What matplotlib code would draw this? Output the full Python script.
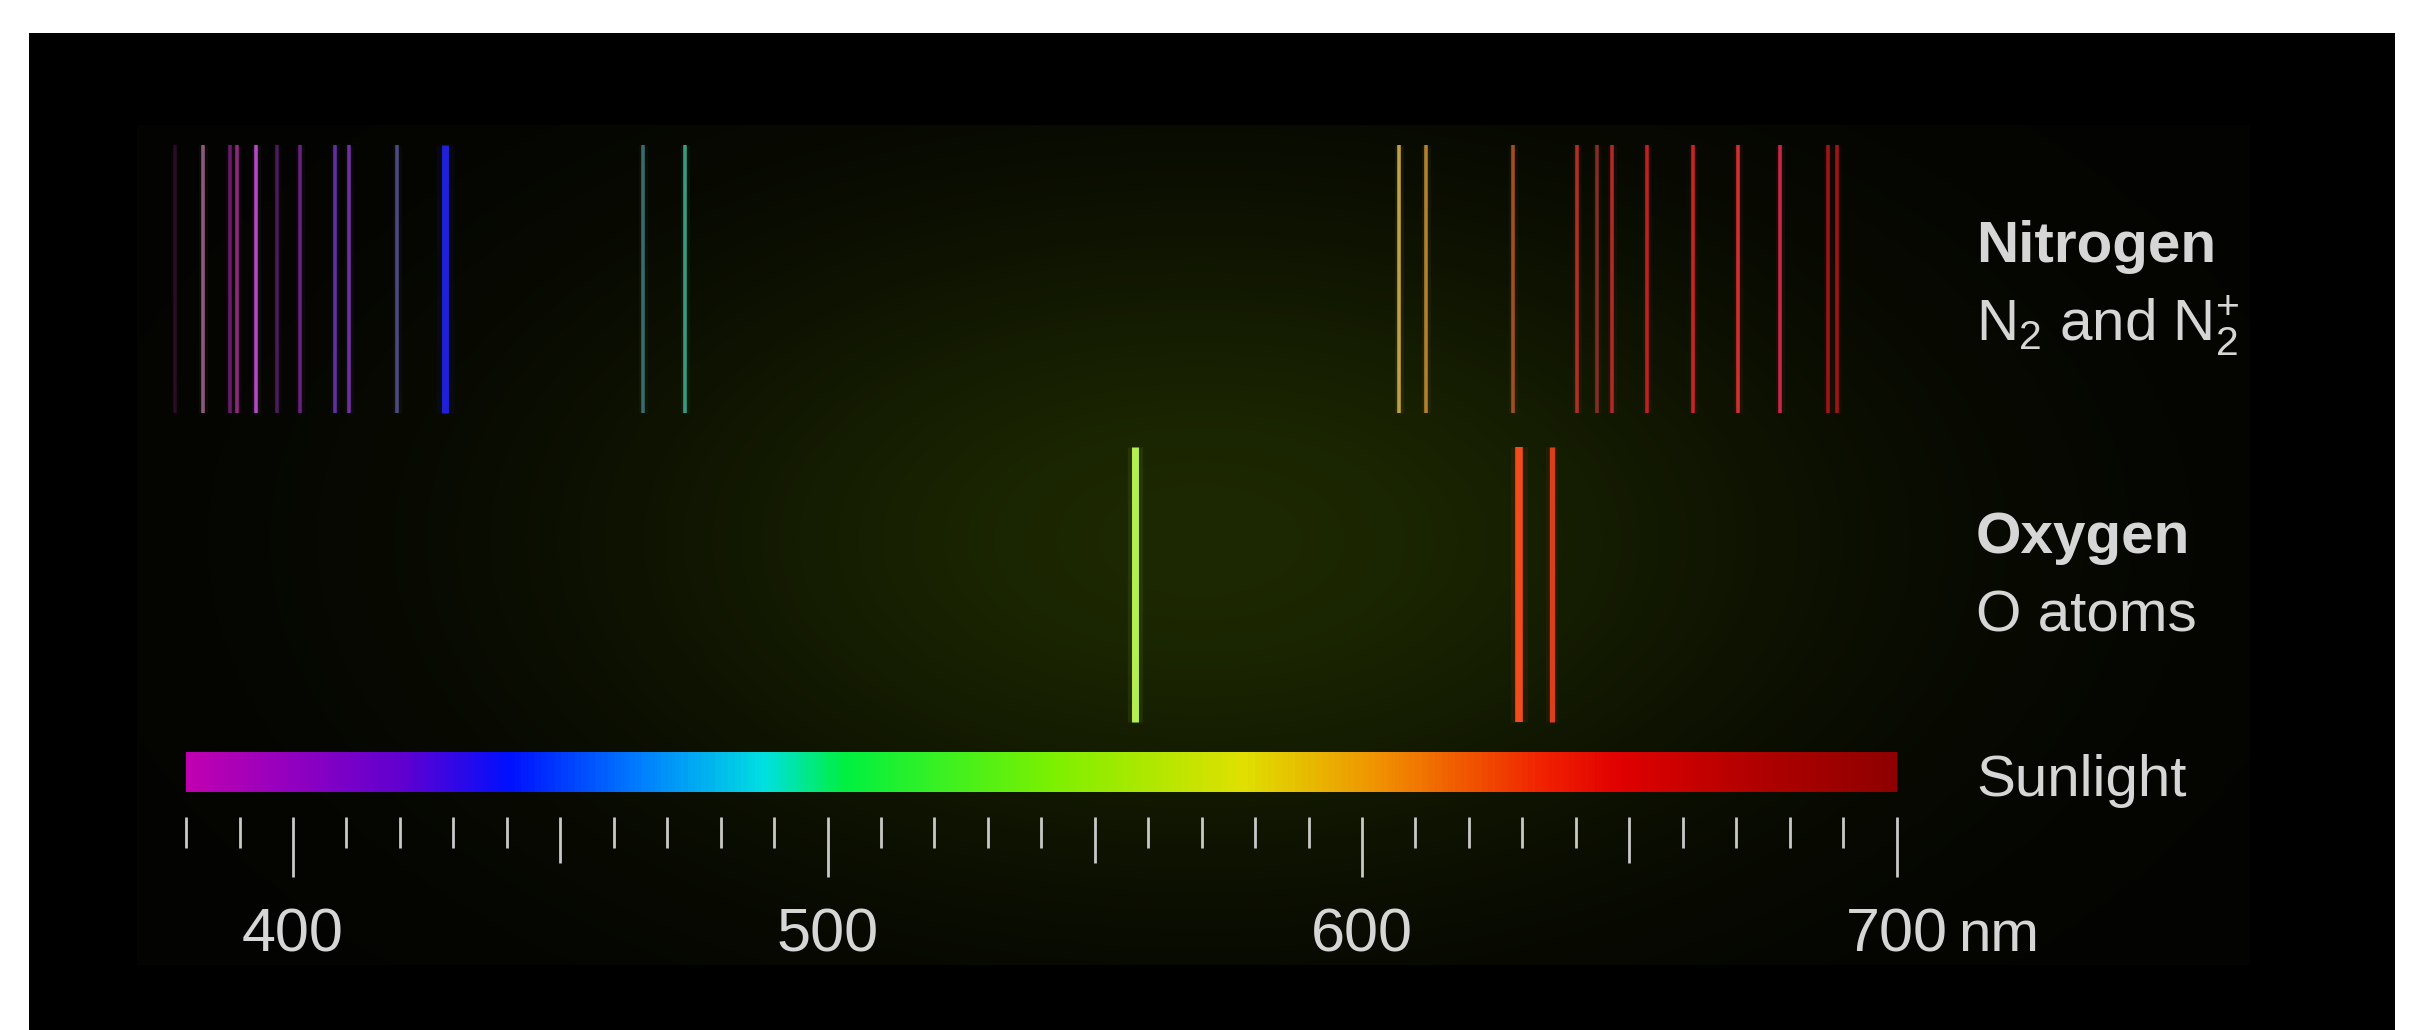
import numpy as np
import matplotlib.pyplot as plt
from matplotlib.colors import LinearSegmentedColormap

plt.rcParams['font.family'] = ['Liberation Sans', 'DejaVu Sans']
plt.rcParams['mathtext.fontset'] = 'custom'
plt.rcParams['mathtext.rm'] = 'Liberation Sans'
plt.rcParams['mathtext.it'] = 'Liberation Sans:italic'
plt.rcParams['mathtext.bf'] = 'Liberation Sans:bold'

# Nitrogen (N2 and N2+) emission lines, nm
nitrogen_nm = [377.9, 383.2, 388.2, 389.5, 393.1, 397.0, 401.3, 407.9, 410.5, 419.5, 428.4,
               465.5, 473.3,
               606.9, 612.0, 628.3, 640.2, 644.0, 646.8, 653.3, 661.9, 670.4, 678.2, 687.2, 688.9]
nitrogen_colors = ['#2a0c24', '#8a5a7a', '#6a1a6a', '#8a2a7a', '#b448c4', '#4a1a5a', '#6a2080',
                   '#6030a0', '#7030a0', '#4a4a80', '#2020d8',
                   '#3a6a6a', '#3a9a80',
                   '#c0a040', '#b08030', '#a05020', '#b03020', '#803020', '#b02828', '#c02020',
                   '#c82424', '#d03030', '#c82848', '#a01414', '#a01414']

# Oxygen (O atoms) emission lines, nm
oxygen_nm = [557.5, 629.3, 635.6]
oxygen_colors = ['#b4ee50', '#f04c1c', '#d8401c']

# Sunlight colour bar stops
sun_nm = [380, 400, 420, 440, 465, 488, 503, 543, 578, 604, 635, 649, 675, 700]
sun_colors = ['#c000b0', '#9000c0', '#6000d0', '#0010ff', '#0080ff', '#00e0e0', '#00f040',
              '#80f000', '#e0e000', '#f09000', '#f02000', '#e00000', '#b00000', '#900000']

# Scale
tick_nm = np.arange(380, 701, 10)
label_nm = [400, 500, 600, 700]

W, H = 2412, 1030
px_per_nm = 5.345
x0 = 400 - 293 / px_per_nm
x1 = x0 + W / px_per_nm
text_color = '#d6d6d6'

fig = plt.figure(figsize=(W / 100, H / 100), dpi=100)
fig.patch.set_facecolor('white')

# Background: black panel with dark green glow
bg = np.ones((H, W, 3))
bg[33:, 29:2395] = 0.0
yy, xx = np.mgrid[0:H, 0:W]
glow = np.exp(-((xx - 1200) / 620.0) ** 2 - ((yy - 540) / 340.0) ** 2)
inner = (xx >= 137) & (xx < 2250) & (yy >= 125) & (yy < 965)
for c, (base, peak) in enumerate([(3, 26), (3, 38), (1, 0)]):
    layer = bg[:, :, c]
    layer[inner] = ((base + peak * glow) / 255.0)[inner]

ax_bg = fig.add_axes([0, 0, 1, 1])
ax_bg.imshow(bg, extent=(0, W, H, 0), aspect='auto', interpolation='bilinear')
ax_bg.axis('off')

ax = fig.add_axes([0, 0, 1, 1])
ax.set_xlim(x0, x1)
ax.set_ylim(H, 0)
ax.patch.set_alpha(0)
ax.axis('off')

# Nitrogen lines (with soft halo)
for nm, col in zip(nitrogen_nm, nitrogen_colors):
    lw = 5.0 if nm == 428.4 else 2.6
    ax.vlines(nm, 145, 413, colors=col, linewidth=lw * 2.5, alpha=0.08)
    ax.vlines(nm, 145, 413, colors=col, linewidth=lw)

# Oxygen lines
for nm, col, lw in zip(oxygen_nm, oxygen_colors, [5.0, 5.5, 3.8]):
    ax.vlines(nm, 447, 722, colors=col, linewidth=lw * 2.2, alpha=0.08)
    ax.vlines(nm, 447, 722, colors=col, linewidth=lw)

# Sunlight bar
cmap = LinearSegmentedColormap.from_list(
    'sun', [((n - sun_nm[0]) / (sun_nm[-1] - sun_nm[0]), c) for n, c in zip(sun_nm, sun_colors)])
grad = np.linspace(0, 1, 512).reshape(1, -1)
ax.imshow(grad, cmap=cmap, extent=(sun_nm[0], sun_nm[-1], 792, 752), aspect='auto',
          interpolation='bilinear')

# Ticks
for t in tick_nm:
    if t % 100 == 0:
        bottom = 877
    elif t % 50 == 0:
        bottom = 863
    else:
        bottom = 848
    ax.vlines(t, 817, bottom, colors='#c8c8c8', linewidth=2.0)

for t in label_nm:
    ax.text(t, 951, str(t), color=text_color, fontsize=44, ha='center', va='baseline')
ax.text(label_nm[-1] + 11.5, 951, 'nm', color=text_color, fontsize=42, ha='left', va='baseline')

# Labels on the right
def label(y, s, bold=False):
    fig.text(1976 / W, 1 - y / H, s, color=text_color, fontsize=42,
             fontweight='bold' if bold else 'normal', ha='left', va='baseline')

label(262, 'Nitrogen', bold=True)
label(340, r'N$_2$ and N$_2^{+}$')
label(553, 'Oxygen', bold=True)
label(632, 'O atoms')
label(796, 'Sunlight')

fig.savefig('out.png', dpi=100)
